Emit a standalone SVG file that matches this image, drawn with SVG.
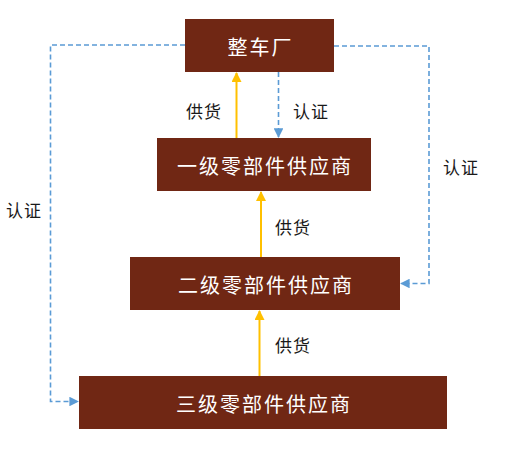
<svg xmlns="http://www.w3.org/2000/svg" width="509" height="463" viewBox="0 0 509 463">
<style>
.box{fill:#702714;}
.bt{fill:#ffffff;font-family:"Microsoft YaHei","Noto Sans CJK SC",sans-serif;font-size:20px;letter-spacing:2px;text-anchor:middle;dominant-baseline:central;}
.lb{fill:#1a1a1a;font-family:"Noto Sans CJK SC",sans-serif;font-size:17px;letter-spacing:1px;dominant-baseline:central;}
.sup{stroke:#FFC000;stroke-width:2;fill:none;marker-end:url(#ya);}
.cert{stroke:#5B9BD5;stroke-width:1.6;fill:none;stroke-dasharray:5 3;marker-end:url(#ba);}
</style>
<defs>
<marker id="ya" viewBox="0 0 10 10" refX="9" refY="5" markerWidth="5" markerHeight="5" orient="auto" markerUnits="strokeWidth">
<path d="M0,0 L10,5 L0,10 z" fill="#FFC000"/>
</marker>
<marker id="ba" viewBox="0 0 10 10" refX="9" refY="5" markerWidth="6" markerHeight="6" orient="auto" markerUnits="strokeWidth">
<path d="M0,0 L10,5 L0,10 z" fill="#5B9BD5"/>
</marker>
</defs>
<rect width="509" height="463" fill="#ffffff"/>
<g id="connectors">
<path class="sup" d="M236.5,138 L236.5,73"/>
<path class="cert" d="M278.5,72 L278.5,137"/>
<path class="sup" d="M261,257 L261,192"/>
<path class="sup" d="M259.5,376 L259.5,311"/>
<path class="cert" d="M185,45 L50.5,45 L50.5,401.5 L78,401.5"/>
<path class="cert" d="M334,46 L429,46 L429,283.5 L401,283.5"/>
</g>
<g id="labels">
<text class="lb" x="186" y="110">供货</text>
<text class="lb" x="293" y="110">认证</text>
<text class="lb" x="443" y="166">认证</text>
<text class="lb" x="6" y="209">认证</text>
<text class="lb" x="275" y="226">供货</text>
<text class="lb" x="275" y="344">供货</text>
</g>
<g id="n1"><rect class="box" x="185" y="19" width="149" height="53"/><text class="bt" x="260.5" y="46">整车厂</text></g>
<g id="n2"><rect class="box" x="157" y="138" width="214" height="53"/><text class="bt" x="265" y="165">一级零部件供应商</text></g>
<g id="n3"><rect class="box" x="130" y="257" width="270" height="53"/><text class="bt" x="266" y="284">二级零部件供应商</text></g>
<g id="n4"><rect class="box" x="79" y="376" width="368" height="53"/><text class="bt" x="264" y="403">三级零部件供应商</text></g>
</svg>
